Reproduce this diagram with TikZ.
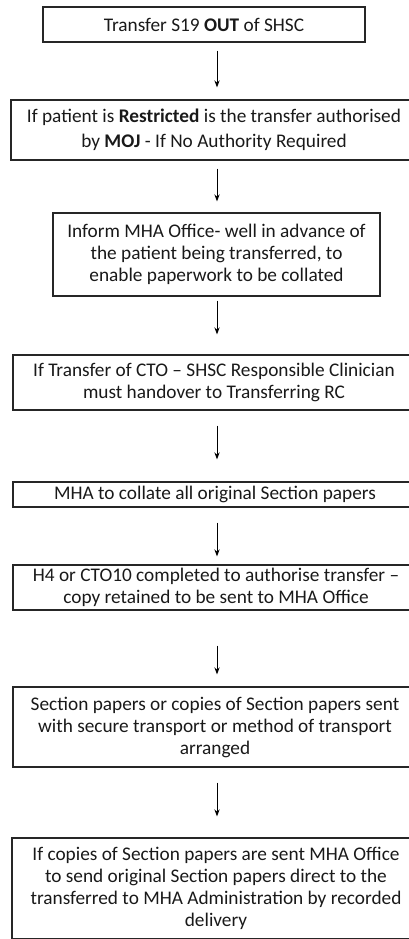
\documentclass[tikz,border=0pt]{standalone}
\usepackage{fontspec}
\setmainfont{Carlito}
\usetikzlibrary{positioning,arrows.meta}
\tikzset{>=Stealth}

\begin{document}
\begin{tikzpicture}[x=1pt,y=1pt,
  stage/.style={draw=black!85, line width=1.2pt, align=center, inner sep=0pt,
    text=black!90, font=\fontsize{19.3}{22}\selectfont},
  flow/.style={->, line width=.9pt}]
\useasboundingbox (0,0) rectangle (409,-939);
\clip (0,0) rectangle (409,-939);
\coordinate (ax) at (217,0);
\node[stage, minimum width=322, minimum height=35] (s1) at (204,-24.5)
  {Transfer S19 \textbf{OUT} of SHSC};
\node[stage, minimum width=406, minimum height=60] (s2) at (214,-130)
  {If patient is \textbf{Restricted} is the transfer authorised\\[3pt]
   by \textbf{MOJ} - If No Authority Required};
\node[stage, minimum width=327, minimum height=83] (s3) at (216.5,-254.5)
  {Inform MHA Office- well in advance of\\
   the patient being transferred, to\\
   enable paperwork to be collated};
\node[stage, minimum width=402, minimum height=55] (s4) at (214,-382.5)
  {If Transfer of CTO -- SHSC Responsible Clinician\\
   must handover to Transferring RC};
\node[stage, minimum width=404, minimum height=25] (s5) at (215,-494.5)
  {MHA to collate all original Section papers};
\node[stage, minimum width=406, minimum height=45] (s6) at (216,-587.5)
  {H4 or CTO10 completed to authorise transfer --\\
   copy retained to be sent to MHA Office};
\node[stage, minimum width=404, minimum height=80] (s7) at (215,-727)
  {Section papers or copies of Section papers sent\\
   with secure transport or method of transport\\
   arranged};
\node[stage, minimum width=408, minimum height=101] (s8) at (216,-888.5)
  {If copies of Section papers are sent MHA Office\\
   to send original Section papers direct to the\\
   transferred to MHA Administration by recorded\\
   delivery};
% arrows down the middle
\foreach \a/\b/\s/\e in {s1/s2/8/12, s2/s3/8/11, s3/s4/4/20, s4/s5/15/22,
    s5/s6/15/8, s6/s7/35/12, s7/s8/15/21}
  \draw[flow, shorten <=\s pt, shorten >=\e pt] (\a.south -| ax) -- (\b.north -| ax);
\end{tikzpicture}
\end{document}
